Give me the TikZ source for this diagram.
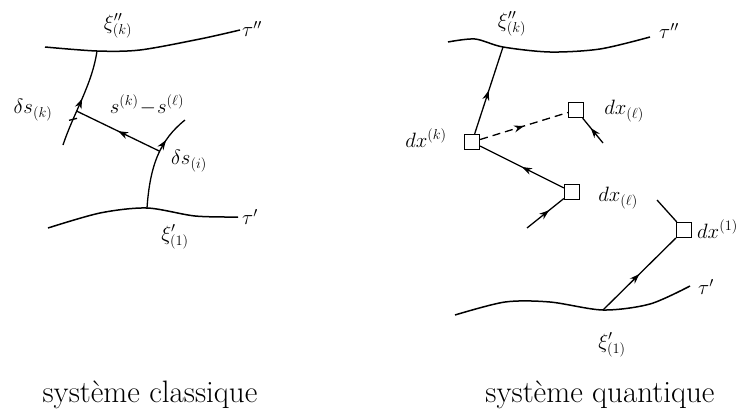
\documentclass[tikz,border=0pt]{standalone}
\usepackage{fontspec}
\usetikzlibrary{arrows.meta,decorations.markings}
\tikzset{
  world/.style={line width=1.5pt},
  link/.style={line width=1.3pt},
  site/.style={draw, line width=1.3pt, minimum size=15pt, inner sep=0pt},
  midarrow/.style={postaction={decorate},
    decoration={markings, mark=at position #1 with {\arrow{Stealth[length=10pt,width=7pt]}}}},
  midarrow/.default=0.5,
  lbl/.style={font=\fontsize{22}{26}\selectfont, inner sep=1pt},
  caption/.style={font=\fontsize{31}{36}\selectfont, anchor=base}
}
\begin{document}
\begin{tikzpicture}[x=1pt, y=-1pt]
  \useasboundingbox (0,0) rectangle (750,410);
  % classical system
  \coordinate (xiK) at (97,51);
  \coordinate (xiI) at (147,208);
  \coordinate (kfoot) at (63,145);
  \coordinate (iend) at (185,120);
  \draw[world] plot[smooth] coordinates {(45,47) (xiK) (140,50) (200,39) (240,30)};
  \draw[world] plot[smooth] coordinates {(48,228) (100,213) (xiI) (195,216) (238,217)};
  \draw[link, midarrow=0.5] (kfoot) .. controls (74,112) and (92,85) .. (xiK)
    coordinate[pos=0.36] (jk) coordinate[pos=0.27] (tick);
  \draw[link, midarrow=0.72] (xiI) .. controls (150,165) and (160,140) .. (iend)
    coordinate[pos=0.55] (ji);
  \draw[link, midarrow] (ji) -- (jk);
  \draw[link] ([xshift=-4pt,yshift=-1pt]tick) -- ([xshift=4pt,yshift=1pt]tick);
  \node[lbl] at (118,26) {$\xi''_{(k)}$};
  \node[lbl, anchor=west] at (241,29) {$\tau''$};
  \node[lbl] at (33,110) {$\delta s_{(k)}$};
  \node[lbl] at (147,105) {$s^{(k)}\!-\!s^{(\ell)}$};
  \node[lbl] at (189,161) {$\delta s_{(i)}$};
  \node[lbl] at (175,237) {$\xi'_{(1)}$};
  \node[lbl, anchor=west] at (241,217) {$\tau'$};
  % quantum system
  \coordinate (xiKq) at (503,47);
  \coordinate (xiIq) at (603,310);
  \draw[world] plot[smooth] coordinates {(448,42) (475,39) (xiKq) (550,52) (600,49) (650,37)};
  \draw[world] plot[smooth] coordinates {(455,315) (505,302) (550,302) (xiIq) (650,304) (690,286)};
  \node[site] (k) at (472,142) {};
  \node[site] (lt) at (576,110) {};
  \node[site] (lb) at (572,192) {};
  \node[site] (one) at (684,230) {};
  \coordinate (ltin) at (603,143);
  \coordinate (lbin) at (527,228);
  \coordinate (oneout) at (657,200);
  \draw[link, midarrow] (k) -- (xiKq);
  \draw[link, dash pattern=on 8pt off 5pt, midarrow] (k) -- (lt);
  \draw[link, midarrow=0.6] (ltin) -- (lt);
  \draw[link, midarrow] (lb) -- (k);
  \draw[link, midarrow=0.6] (lbin) -- (lb);
  \draw[link, midarrow] (xiIq) -- (one);
  \draw[link] (one) -- (oneout);
  \node[lbl] at (512,24) {$\xi''_{(k)}$};
  \node[lbl, anchor=west] at (658,31) {$\tau''$};
  \node[lbl] at (426,138) {$dx^{(k)}$};
  \node[lbl] at (624,111) {$dx_{(\ell)}$};
  \node[lbl] at (618,198) {$dx_{(\ell)}$};
  \node[lbl, anchor=west] at (696,229) {$dx^{(1)}$};
  \node[lbl, anchor=west] at (697,287) {$\tau'$};
  \node[lbl] at (612,345) {$\xi'_{(1)}$};
  % captions
  \node[caption] at (150,402) {système classique};
  \node[caption] at (600,402) {système quantique};
\end{tikzpicture}
\end{document}
